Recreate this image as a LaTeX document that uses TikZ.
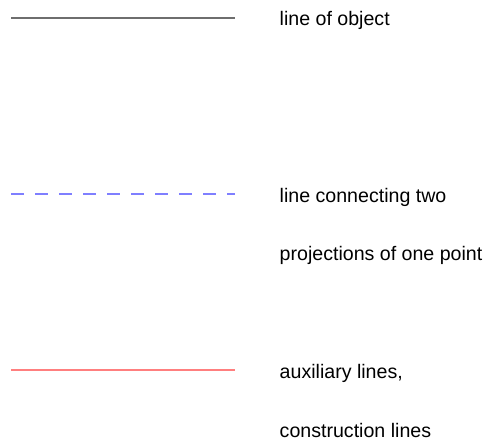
\documentclass[tikz,border=0pt]{standalone}
\usepackage{fontspec}
\setmainfont{Liberation Sans}
\definecolor{objcol}{HTML}{6E6E6E}
\definecolor{projcol}{HTML}{7F7FFF}
\definecolor{auxcol}{HTML}{FF7F7F}
\begin{document}
\begin{tikzpicture}[x=1bp,y=-1bp,
  lbl/.style={anchor=base west,inner sep=0pt,font=\fontsize{19.6bp}{23bp}\selectfont},
  objline/.style={color=objcol,line width=1.5bp},
  projline/.style={color=projcol,line width=1.5bp,dash pattern=on 12.5bp off 11.5bp},
  auxline/.style={color=auxcol,line width=1.5bp}]
\useasboundingbox (0,0) rectangle (493,446);
\coordinate (a1) at (11,18);
\coordinate (a2) at (235,18);
\coordinate (b1) at (11,194);
\coordinate (b2) at (235,194);
\coordinate (c1) at (11,370);
\coordinate (c2) at (235,370);
\draw[objline] (a1) -- (a2);
\draw[projline] (b1) -- (b2);
\draw[auxline] (c1) -- (c2);
\node[lbl] (t1) at (279.5,26) {line of object};
\node[lbl] (t2) at (279.5,202.5) {line connecting two};
\node[lbl] (t3) at (279.5,260) {projections of one point};
\node[lbl] (t4) at (279.5,378) {auxiliary lines,};
\node[lbl] (t5) at (279.5,437) {construction lines};
\end{tikzpicture}
\end{document}
